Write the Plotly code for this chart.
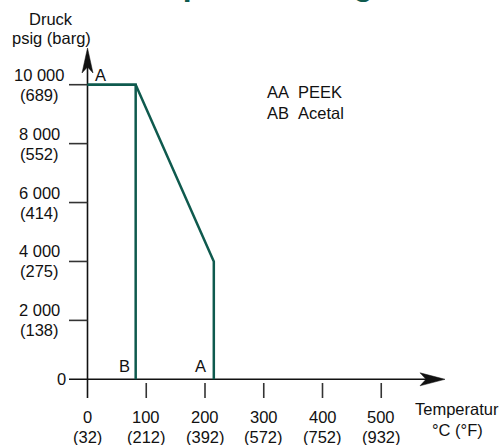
import plotly.graph_objects as go

# ---------------- data ----------------
temp_ticks_c = [0, 100, 200, 300, 400, 500]
temp_ticks_f = ["(32)", "(212)", "(392)", "(572)", "(752)", "(932)"]
press_ticks_psig = [2000, 4000, 6000, 8000, 10000]
press_ticks_psig_lbl = ["2 000", "4 000", "6 000", "8 000", "10 000"]
press_ticks_barg_lbl = ["(138)", "(275)", "(414)", "(552)", "(689)"]

peek_temp = [0, 82, 215, 215]
peek_press = [10000, 10000, 4000, 0]
acetal_temp = [0, 82, 82]
acetal_press = [10000, 10000, 0]

legend_codes = ["AA", "AB"]
legend_names = ["PEEK", "Acetal"]

# ---------------- layout geometry ----------------
W, H = 503, 445
X0PX, XS = 87.5, 0.5875      # pixel of 0 °C, px per °C
Y0PX, YS = 379.3, 0.02946    # pixel of 0 psig, px per psig

def px2x(px):
    return (px - X0PX) / XS

def py2y(py):
    return (Y0PX - py) / YS

def pxp(px):
    return px / W

def pyp(py):
    return 1 - py / H

FONT = "Liberation Sans, Arial, sans-serif"
FS = 16.5
GREEN = "#0f5a4e"
AX = "#111111"
TICK = "#333333"

fig = go.Figure()
fig.add_trace(go.Scatter(x=acetal_temp, y=acetal_press, mode="lines",
                         line=dict(color=GREEN, width=2.5), hoverinfo="skip"))
fig.add_trace(go.Scatter(x=peek_temp, y=peek_press, mode="lines",
                         line=dict(color=GREEN, width=2.5), hoverinfo="skip"))

shapes = []
ann = []

x_axis_start = px2x(69)
x_axis_tip = px2x(445)
y_axis_bottom = py2y(398)
y_axis_tip = py2y(48)

# axes
shapes.append(dict(type="line", xref="x", yref="y", x0=x_axis_start, x1=x_axis_tip - 10 / XS,
                   y0=0, y1=0, line=dict(color=AX, width=1.6), layer="below"))
shapes.append(dict(type="line", xref="x", yref="y", x0=0, x1=0,
                   y0=y_axis_bottom, y1=y_axis_tip - 10 / YS, line=dict(color=AX, width=1.6), layer="below"))
# arrowheads (pixel-sized)
shapes.append(dict(type="path", xref="x", yref="y", xsizemode="pixel", ysizemode="pixel",
                   xanchor=x_axis_tip, yanchor=0,
                   path="M0,0 L-25,6.5 L-19,0 L-25,-6.5 Z",
                   fillcolor=AX, line=dict(color=AX, width=0.5)))
shapes.append(dict(type="path", xref="x", yref="y", xsizemode="pixel", ysizemode="pixel",
                   xanchor=0, yanchor=y_axis_tip,
                   path="M0,0 L-5.5,-25 L0,-19 L5.5,-25 Z",
                   fillcolor=AX, line=dict(color=AX, width=0.5)))

# y ticks
for v in press_ticks_psig:
    shapes.append(dict(type="line", xref="x", yref="y", x0=px2x(69), x1=0, y0=v, y1=v,
                       line=dict(color=TICK, width=1.6), layer="below"))
# x ticks
for v in temp_ticks_c[1:]:
    shapes.append(dict(type="line", xref="x", yref="y", x0=v, x1=v,
                       y0=py2y(383), y1=py2y(398), line=dict(color=TICK, width=1.6), layer="below"))

font = dict(family=FONT, size=FS, color="#111111")

# y tick labels
for v, l1, l2 in zip(press_ticks_psig, press_ticks_psig_lbl, press_ticks_barg_lbl):
    ann.append(dict(x=pxp(39), y=v, xref="paper", yref="y", text=l1, showarrow=False,
                    xanchor="center", yanchor="middle", yshift=10, font=font))
    ann.append(dict(x=pxp(39), y=v, xref="paper", yref="y", text=l2, showarrow=False,
                    xanchor="center", yanchor="middle", yshift=-10, font=font))
ann.append(dict(x=pxp(68), y=0, xref="paper", yref="y", text="0", showarrow=False,
                xanchor="right", yanchor="middle", font=font))

# x tick labels
for v, f in zip(temp_ticks_c, temp_ticks_f):
    ann.append(dict(x=v, y=pyp(417), xref="x", yref="paper", text=str(v), showarrow=False,
                    xanchor="center", yanchor="middle", font=font))
    ann.append(dict(x=v, y=pyp(437), xref="x", yref="paper", text=f, showarrow=False,
                    xanchor="center", yanchor="middle", font=font))

# axis titles
ann.append(dict(x=pxp(51), y=pyp(19), xref="paper", yref="paper", text="Druck", showarrow=False,
                xanchor="center", yanchor="middle", font=font))
ann.append(dict(x=pxp(51), y=pyp(38), xref="paper", yref="paper", text="psig (barg)", showarrow=False,
                xanchor="center", yanchor="middle", font=font))
ann.append(dict(x=pxp(457), y=pyp(409), xref="paper", yref="paper", text="Temperatur", showarrow=False,
                xanchor="center", yanchor="middle", font=font))
ann.append(dict(x=pxp(457), y=pyp(430), xref="paper", yref="paper", text="°C (°F)", showarrow=False,
                xanchor="center", yanchor="middle", font=font))

# curve labels
ann.append(dict(x=px2x(100.5), y=py2y(75), text="A", showarrow=False, font=font,
                xanchor="center", yanchor="middle"))
ann.append(dict(x=acetal_temp[-1], y=0, text="B", showarrow=False, font=font,
                xanchor="right", yanchor="bottom", xshift=-4, yshift=2))
ann.append(dict(x=peek_temp[-1], y=0, text="A", showarrow=False, font=font,
                xanchor="right", yanchor="bottom", xshift=-6, yshift=2))

# legend
for i, (c, n) in enumerate(zip(legend_codes, legend_names)):
    yy = 92 + 21 * i
    ann.append(dict(x=pxp(265), y=pyp(yy), xref="paper", yref="paper", text=c, showarrow=False,
                    xanchor="left", yanchor="middle", font=font))
    ann.append(dict(x=pxp(296), y=pyp(yy), xref="paper", yref="paper", text=n, showarrow=False,
                    xanchor="left", yanchor="middle", font=font))

# title (mostly cut off at top)
ann.append(dict(x=pxp(16), y=1, xref="paper", yref="paper", text="<b>Druck-Temperatur-Diagramm</b>",
                showarrow=False, xanchor="left", yanchor="bottom", yshift=-4,
                font=dict(family="Liberation Sans, Arial, sans-serif", size=32, color=GREEN)))

fig.update_layout(
    width=W, height=H,
    margin=dict(l=0, r=0, t=0, b=0),
    paper_bgcolor="white", plot_bgcolor="white",
    showlegend=False,
    xaxis=dict(range=[px2x(0), px2x(W)], visible=False, fixedrange=True),
    yaxis=dict(range=[py2y(H), py2y(0)], visible=False, fixedrange=True),
    shapes=shapes, annotations=ann,
)

fig.write_html("out.html", config={"displayModeBar": False},
               post_script="document.body.style.margin='0';document.body.style.overflow='hidden';")
